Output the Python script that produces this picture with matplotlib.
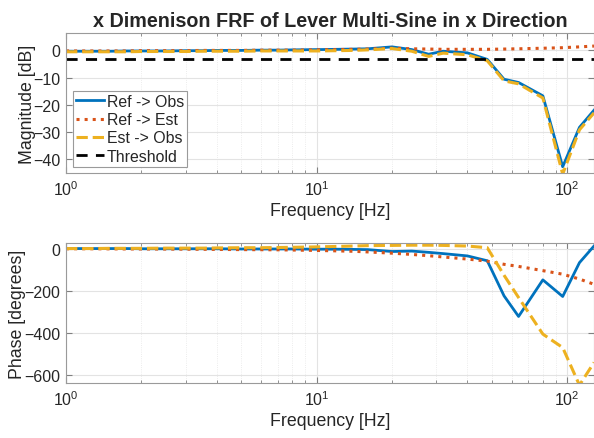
import numpy as np
import matplotlib
matplotlib.use("Agg")
import matplotlib.pyplot as plt
from matplotlib.ticker import LogLocator, NullFormatter

plt.rcParams['font.family'] = ['Liberation Sans', 'DejaVu Sans']
plt.rcParams['mathtext.fontset'] = 'custom'
plt.rcParams['mathtext.rm'] = 'Liberation Sans'
plt.rcParams['mathtext.it'] = 'Liberation Sans:italic'
plt.rcParams['mathtext.default'] = 'regular'

# frequency grid of the multi-sine (Hz)
freq = [1, 1.25, 1.5, 1.75, 2, 2.5, 3, 3.5, 4, 5, 6, 7, 8, 10, 12, 14,
        16, 20, 24, 28, 32, 40, 48, 56, 64, 80, 96, 112, 128]

# magnitude [dB]
mag_ref_obs = [-0.3, -0.3, -0.3, -0.2, -0.2, -0.2, -0.1, -0.1, 0.0, 0.0, 0.1, 0.1, 0.2, 0.3, 0.4, 0.5,
               0.6, 1.3, 0.3, -1.4, -0.3, -0.9, -3.3, -10.6, -11.8, -16.7, -42.8, -28.3, -22.0]
mag_ref_est = [-0.2, -0.2, -0.2, -0.2, -0.1, -0.1, -0.1, 0.0, 0.0, 0.0, 0.1, 0.1, 0.1, 0.2, 0.3, 0.4,
               0.5, 0.8, 0.6, 0.5, 0.4, 0.4, 0.4, 0.5, 0.6, 0.8, 1.0, 1.3, 1.6]
mag_est_obs = [-0.5, -0.5, -0.5, -0.5, -0.4, -0.4, -0.4, -0.3, -0.3, -0.3, -0.2, -0.2, -0.2, -0.2, -0.1, 0.0,
               0.2, 0.7, -0.3, -2.2, -1.0, -1.6, -3.8, -11.2, -12.3, -17.5, -45.5, -29.2, -23.0]
threshold = -3

# phase [degrees]
ph_ref_obs = [0, 0, 0, 0, -1, -1, -1, -1, -1, -2, -2, -2, -2, -3, -3, -4,
              -5, -14, -12, -18, -24, -35, -58, -225, -323, -149, -228, -67, 12]
ph_ref_est = [-1, -1, -1.5, -2, -2, -2.5, -3, -3.5, -4, -5, -5.5, -6, -7, -9, -11, -13,
              -16, -22, -28, -34, -40, -50, -60, -75, -85, -105, -122, -145, -170]
ph_est_obs = [0, 0, 1, 1, 1, 2, 2, 2, 3, 4, 4, 5, 6, 8, 10, 12,
              14, 15, 16, 16, 15, 12, 4, -127, -233, -407, -471, -650, -542]

c_blue = '#0072BD'
c_orange = '#D95319'
c_yellow = '#EDB120'
txt = '#262626'

fig = plt.figure(figsize=(5.94, 4.39), dpi=100)
ax1 = fig.add_axes([0.1111, 0.603, 0.8889, 0.3189])
ax2 = fig.add_axes([0.1111, 0.1246, 0.8889, 0.3189])

ax1.plot(freq, mag_ref_obs, '-', color=c_blue, lw=2, label='Ref -> Obs')
ax1.plot(freq, mag_ref_est, ':', color=c_orange, lw=2.2, label='Ref -> Est')
ax1.plot(freq, mag_est_obs, '--', color=c_yellow, lw=2.2, label='Est -> Obs')
ax1.axhline(threshold, color='black', ls=(0, (4, 3)), lw=2, label='Threshold')

ax2.plot(freq, ph_ref_obs, '-', color=c_blue, lw=2)
ax2.plot(freq, ph_ref_est, ':', color=c_orange, lw=2.2)
ax2.plot(freq, ph_est_obs, '--', color=c_yellow, lw=2.2)

for ax in (ax1, ax2):
    ax.set_xscale('log')
    ax.set_xlim(1, 128)
    ax.xaxis.set_major_locator(LogLocator(base=10, numticks=5))
    ax.xaxis.set_minor_locator(LogLocator(base=10, subs=np.arange(2, 10), numticks=20))
    ax.xaxis.set_minor_formatter(NullFormatter())
    ax.grid(True, which='major', color='#e3e3e3', lw=0.8)
    ax.grid(True, which='minor', axis='x', color='#e6e6e6', lw=0.6, ls=':')
    ax.set_axisbelow(True)
    ax.tick_params(which='both', direction='in', top=True, right=True,
                   labelsize=11.5, colors=txt, pad=4)
    ax.tick_params(which='major', length=4, color='#808080')
    ax.tick_params(which='minor', length=2.5, color='#808080')
    for s in ax.spines.values():
        s.set_color('#9a9a9a')
        s.set_linewidth(0.8)
    ax.set_xlabel('Frequency [Hz]', fontsize=12.8, color=txt, labelpad=3)

ax1.set_ylim(-45.2, 6.3)
ax1.set_yticks([0, -10, -20, -30, -40])
ax1.set_ylabel('Magnitude [dB]', fontsize=12.8, color=txt, labelpad=-2)
ax1.set_title('x Dimenison FRF of Lever Multi-Sine in x Direction',
              fontsize=14.2, fontweight='bold', color=txt, pad=5)

ax2.set_ylim(-641, 25)
ax2.set_yticks([0, -200, -400, -600])
ax2.set_ylabel('Phase [degrees]', fontsize=12.8, color=txt, labelpad=-1)

leg = ax1.legend(loc='lower left', bbox_to_anchor=(0.0127, 0.047), borderaxespad=0,
                 fontsize=11.4, fancybox=False, framealpha=1, edgecolor='#9a9a9a',
                 handlelength=1.8, handletextpad=0.15, labelspacing=0.2,
                 borderpad=0.2)
leg.get_frame().set_linewidth(0.8)
for t in leg.get_texts():
    t.set_color(txt)

fig.savefig('out.png', dpi=100)
